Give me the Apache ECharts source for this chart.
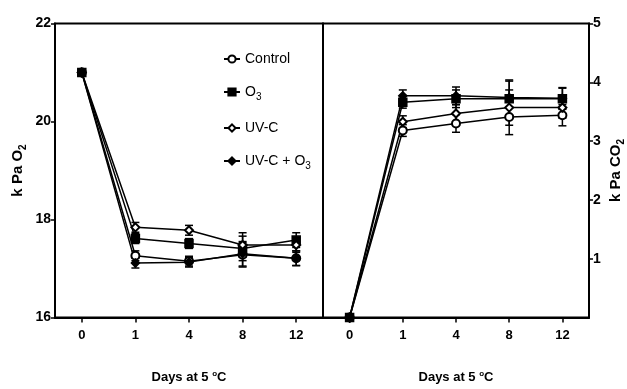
<!DOCTYPE html>
<html>
<head>
<meta charset="utf-8">
<script src="https://cdn.jsdelivr.net/npm/echarts@6/dist/echarts.min.js"></script>
<style>
  html, body { margin: 0; padding: 0; background: #fff; }
  #chart { width: 627px; height: 389px; }
</style>
</head>
<body>
<div id="chart"></div>
<script>
const days = ['0', '1', '4', '8', '12']
const seriesNames = ['Control', 'O3', 'UV-C', 'UV-C + O3']
const symbols = ['emptyCircle', 'rect', 'emptyDiamond', 'diamond']

// kPa O2 (left panel)
const o2Control = [21.0, 17.26, 17.15, 17.28, 17.21]
const o2O3 = [21.0, 17.61, 17.51, 17.41, 17.58]
const o2UVC = [21.0, 17.84, 17.78, 17.48, 17.48]
const o2UVCO3 = [21.0, 17.11, 17.13, 17.30, 17.21]
const o2Err = [0.05, 0.1, 0.1, 0.25, 0.15]

// kPa CO2 (right panel)
const co2Control = [0, 3.18, 3.30, 3.41, 3.44]
const co2O3 = [0, 3.66, 3.72, 3.72, 3.72]
const co2UVC = [0, 3.33, 3.47, 3.57, 3.57]
const co2UVCO3 = [0, 3.77, 3.77, 3.74, 3.73]
const co2Err = [0.03, 0.1, 0.15, 0.3, 0.18]

const o2Tick = [16, 18, 20, 22]
const co2Tick = [1, 2, 3, 4, 5]

const font = "'Liberation Sans Narrow', 'Liberation Sans', Arial, sans-serif"

const chart = echarts.init(document.getElementById('chart'))

function lineSeries(name, idx, data, panel) {
  return {
    name: name,
    type: 'line',
    xAxisIndex: panel,
    yAxisIndex: panel,
    data: data,
    symbol: symbols[idx],
    symbolSize: 8,
    lineStyle: { color: '#000', width: 1.5 },
    itemStyle: { color: '#000', borderColor: '#000', borderWidth: 1.5 },
    z: 3,
  }
}

function errSeries(name, data, err, panel) {
  return {
    name: name,
    type: 'custom',
    xAxisIndex: panel,
    yAxisIndex: panel,
    data: data.map((v, i) => [i, v, err[i]]),
    renderItem: (params, api) => {
      const i = api.value(0), v = api.value(1), e = api.value(2)
      const hi = api.coord([i, v + e])
      const lo = api.coord([i, v - e])
      const st = { stroke: '#000', lineWidth: 1.5 }
      return {
        type: 'group',
        children: [
          { type: 'line', shape: { x1: hi[0], y1: hi[1], x2: lo[0], y2: lo[1] }, style: st },
          { type: 'line', shape: { x1: hi[0] - 4, y1: hi[1], x2: hi[0] + 4, y2: hi[1] }, style: st },
          { type: 'line', shape: { x1: lo[0] - 4, y1: lo[1], x2: lo[0] + 4, y2: lo[1] }, style: st },
        ],
      }
    },
    z: 2,
  }
}

const axisLineStyle = { show: true, lineStyle: { color: '#000', width: 2 } }
const tickStyle = { show: true, length: 4, lineStyle: { color: '#000', width: 1.5 } }
const labelStyle = { color: '#000', fontFamily: font, fontWeight: 'bold', fontSize: 13 }

const xAxisBase = {
  type: 'category',
  data: days,
  axisLine: axisLineStyle,
  axisTick: { ...tickStyle, length: 5, alignWithLabel: true },
  axisLabel: { ...labelStyle, margin: 11 },
  splitLine: { show: false },
  name: '{a|Days at 5 }{sup|o}{a|C}',
  nameLocation: 'middle',
  nameGap: 52,
  nameTextStyle: {
    rich: {
      a: { fontFamily: font, fontWeight: 'bold', fontSize: 13, color: '#000' },
      sup: { fontFamily: font, fontWeight: 'bold', fontSize: 8, color: '#000', padding: [0, 0, 8, 0] },
    },
  },
}

const o2Data = [o2Control, o2O3, o2UVC, o2UVCO3]
const co2Data = [co2Control, co2O3, co2UVC, co2UVCO3]

const series = []
seriesNames.forEach((n, i) => {
  series.push(lineSeries(n, i, o2Data[i], 0))
  series.push(lineSeries(n, i, co2Data[i], 1))
})
seriesNames.forEach((n, i) => {
  series.push(errSeries(n, o2Data[i], o2Err, 0))
  series.push(errSeries(n, co2Data[i], co2Err, 1))
})

const nameFont = "'Liberation Sans', Arial, sans-serif"

chart.setOption({
  animation: false,
  legend: {
    data: seriesNames,
    orient: 'vertical',
    left: 218,
    top: 47,
    itemGap: 19,
    itemWidth: 16,
    itemHeight: 9,
    formatter: n => n === 'O3' ? '{a|O}{s|3}' : n === 'UV-C + O3' ? '{a|UV-C + O}{s|3}' : '{a|' + n + '}',
    textStyle: {
      rich: {
        a: { fontFamily: font, fontSize: 14, color: '#000' },
        s: { fontFamily: font, fontSize: 10, color: '#000', padding: [10, 0, 0, 0] },
      },
    },
  },
  grid: [
    { left: 55, right: 304, top: 23.5, bottom: 67, show: true, borderColor: '#000', borderWidth: 2, backgroundColor: 'transparent' },
    { left: 323, right: 35, top: 23.5, bottom: 67, show: true, borderColor: '#000', borderWidth: 2, backgroundColor: 'transparent' },
  ],
  xAxis: [
    { ...xAxisBase, gridIndex: 0 },
    { ...xAxisBase, gridIndex: 1 },
  ],
  yAxis: [
    {
      gridIndex: 0,
      type: 'value',
      min: o2Tick[0],
      max: o2Tick[o2Tick.length - 1],
      interval: 2,
      axisLine: axisLineStyle,
      axisTick: tickStyle,
      axisLabel: { ...labelStyle, fontSize: 14, margin: 4 },
      splitLine: { show: false },
      name: '{a|k Pa O}{s|2}',
      nameLocation: 'middle',
      nameGap: 27,
      nameRotate: 90,
      nameTextStyle: {
        rich: {
          a: { fontFamily: nameFont, fontWeight: 'bold', fontSize: 15, color: '#000' },
          s: { fontFamily: nameFont, fontWeight: 'bold', fontSize: 10, color: '#000', padding: [10, 0, 0, 0] },
        },
      },
    },
    {
      gridIndex: 1,
      type: 'value',
      position: 'right',
      min: 0,
      max: co2Tick[co2Tick.length - 1],
      interval: 1,
      axisLine: axisLineStyle,
      axisTick: tickStyle,
      axisLabel: { ...labelStyle, fontSize: 14, margin: 4, showMinLabel: false, formatter: v => (v === 0 ? '' : v) },
      splitLine: { show: false },
      name: '{a|k Pa CO}{s|2}',
      nameLocation: 'middle',
      nameGap: 17,
      nameRotate: 90,
      nameTextStyle: {
        rich: {
          a: { fontFamily: nameFont, fontWeight: 'bold', fontSize: 15, color: '#000' },
          s: { fontFamily: nameFont, fontWeight: 'bold', fontSize: 10, color: '#000', padding: [10, 0, 0, 0] },
        },
      },
    },
  ],
  series: series,
})
</script>
</body>
</html>
